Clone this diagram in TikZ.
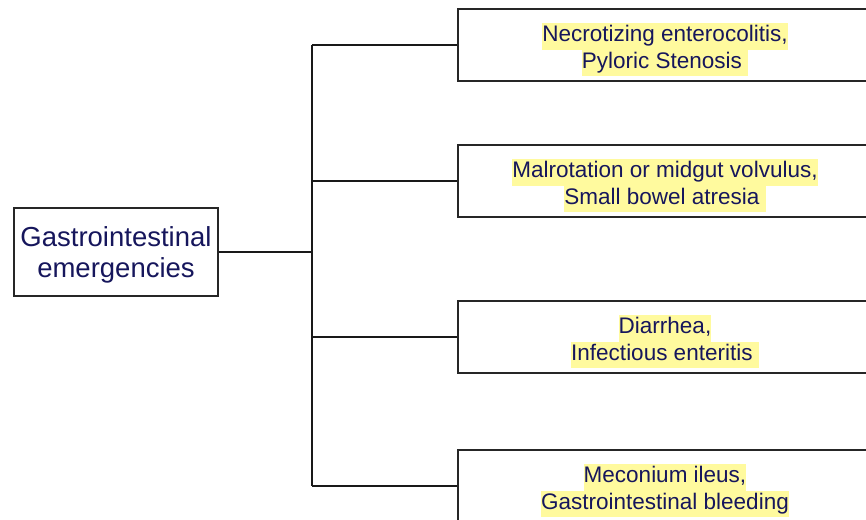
\documentclass[tikz,border=0pt]{standalone}
\usepackage{fontspec}
\setmainfont{Liberation Sans}
\definecolor{navy}{RGB}{22,22,92}
\definecolor{hl}{RGB}{255,250,158}
\newcommand{\hlline}[1]{\colorbox{hl}{\strut #1}}
\begin{document}
\begin{tikzpicture}[x=1pt,y=-1pt,
  rootbox/.style={draw=black!85, line width=1.5pt, fill=white, minimum width=204pt, minimum height=88pt,
    inner sep=0pt},
  roottext/.style={inner sep=0pt, align=center, text=navy, font=\fontsize{27.5}{31.5}\selectfont},
  leafbox/.style={draw=black!85, line width=1.5pt, fill=white, minimum width=414pt, minimum height=72pt,
    inner sep=0pt},
  leaftext/.style={inner sep=0pt, align=center, text=navy, font=\fontsize{22.5}{26.5}\selectfont},
  conn/.style={draw=black!90, line width=1.5pt}]
\path[use as bounding box] (0,0) rectangle (866,519);
\clip (0,0) rectangle (866,519);
\fill[white] (0,0) rectangle (866,519);
\setlength{\fboxsep}{0pt}
\node[rootbox] (root) at (116,252) {};
\node[roottext] (roott) at ([yshift=-3pt]root.center) {Gastrointestinal\\emergencies};
\node[leafbox] (a) at (665,45) {};
\node[leaftext] (at) at ([yshift=-4.5pt]a.center) {\hlline{Necrotizing enterocolitis,}\\\hlline{Pyloric Stenosis\ }};
\node[leafbox] (b) at (665,181) {};
\node[leaftext] (bt) at ([yshift=-4.5pt]b.center) {\hlline{Malrotation or midgut volvulus,}\\\hlline{Small bowel atresia\ }};
\node[leafbox] (c) at (665,337) {};
\node[leaftext] (ct) at ([yshift=-4.5pt]c.center) {\hlline{Diarrhea,}\\\hlline{Infectious enteritis\ }};
\node[leafbox] (d) at (665,486) {};
\node[leaftext] (dt) at ([yshift=-4.5pt]d.center) {\hlline{Meconium ileus,}\\\hlline{Gastrointestinal bleeding}};
\coordinate (j) at (312,252);
\coordinate (ja) at (312,45);
\coordinate (jd) at (312,486);
\draw[conn] (root.east) -- (j);
\draw[conn] (ja) -- (jd);
\draw[conn] (ja) -- (a.west);
\draw[conn] (b.west -| j) -- (b.west);
\draw[conn] (c.west -| j) -- (c.west);
\draw[conn] (jd) -- (d.west);
\end{tikzpicture}
\end{document}
